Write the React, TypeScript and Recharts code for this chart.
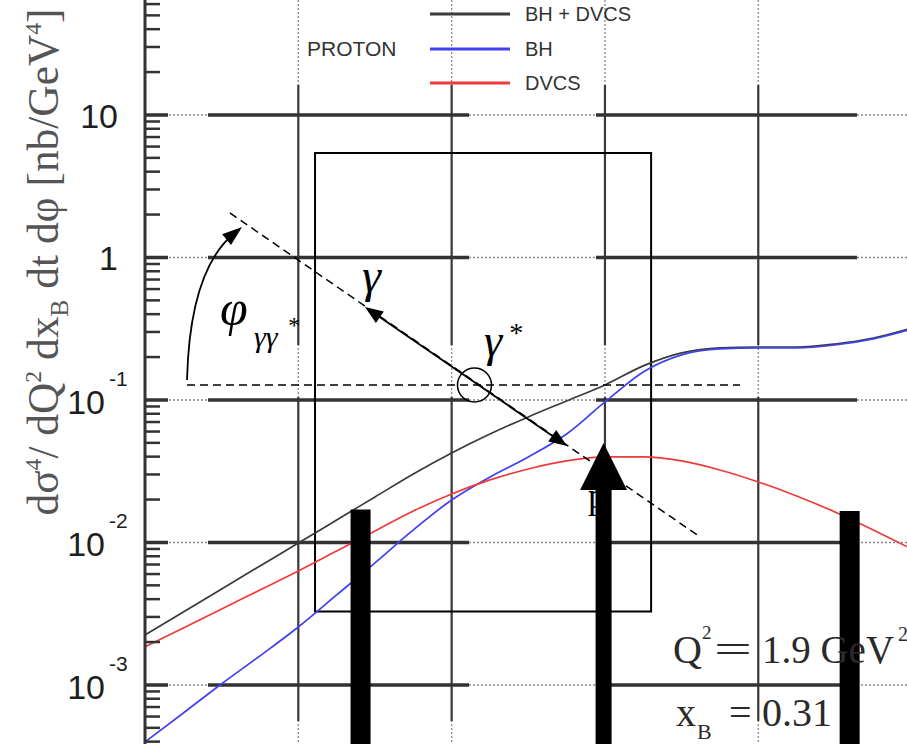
import React from 'react'
import {
  LineChart, Line, XAxis, YAxis, CartesianGrid, Legend,
  ReferenceLine, ReferenceArea, ReferenceDot,
} from 'recharts'

// x in grid units, y in nb/GeV^4
const X = [0, 0.25, 0.5, 0.75, 1, 1.25, 1.5, 1.75, 2, 2.25, 2.5, 2.75, 3, 3.25, 3.5, 3.75, 4, 4.25, 4.5, 4.75, 5]
const BH_DVCS = [0.00224, 0.00325, 0.00472, 0.00684, 0.0099, 0.01438, 0.02086, 0.03027, 0.04249, 0.05769, 0.07603, 0.0984, 0.1274, 0.1734, 0.2138, 0.232, 0.235, 0.235, 0.247, 0.272, 0.32]
const BH = [0.000398, 0.000635, 0.00102, 0.0016, 0.00255, 0.00428, 0.00718, 0.01224, 0.01987, 0.02882, 0.03981, 0.05769, 0.0968, 0.1572, 0.207, 0.228, 0.232, 0.232, 0.243, 0.268, 0.314]
const DVCS = [0.00185, 0.00251, 0.00341, 0.00464, 0.00631, 0.00871, 0.01204, 0.01663, 0.02188, 0.02746, 0.03279, 0.03733, 0.03981, 0.03981, 0.03733, 0.03226, 0.02658, 0.02118, 0.01637, 0.01224, 0.009]

const Y_MIN = 0.000385
const Y_MAX = 64.1
const X_MAX = 4.97
const Y_MAJOR = [0.001, 0.01, 0.1, 1, 10]
const X_GRID = [1, 2, 3, 4]
const Y_TICKS: number[] = []
for (const d of [0.0001, 0.001, 0.01, 0.1, 1, 10]) {
  for (let m = 1; m <= 9; m++) {
    const v = +(m * d).toPrecision(3)
    if (v >= Y_MIN && v <= Y_MAX) Y_TICKS.push(v)
  }
}

const SERIES = [
  { key: 'total', name: 'BH + DVCS', color: '#3a3a3a' },
  { key: 'bh', name: 'BH', color: '#4040ee' },
  { key: 'dvcs', name: 'DVCS', color: '#f03a3a' },
]

const data = X.map((x, i) => ({ x, total: BH_DVCS[i], bh: BH[i], dvcs: DVCS[i] }))

// kinematics sketch drawn over the plot (data coordinates)
const BOX = { x1: 1.109, x2: 3.301, y1: 0.00328, y2: 5.41 }
const DIAG = [{ x: 0.554, y: 2.052 }, { x: 3.601, y: 0.01129 }]
const PLANE = [{ x: 0.274, y: 0.1274 }, { x: 3.881, y: 0.1274 }]
const VERTEX = { x: 2.149, y: 0.1274 }
const PHOTONS = [{ x: 1.435, y: 0.4494 }, { x: 2.753, y: 0.04756 }]
const PHI_ARC = [{ x: 0.274, y: 0.1381 }, { x: 0.633, y: 1.637 }]
const BARS = [{ x: 1.406, top: 0.01705 }, { x: 4.596, top: 0.01664 }]
const PROTON_ARROW = { x: 2.991, tip: 0.0499 }
const PHI_POS = { x: 0.489, y: 0.336 }
const GAMMA_POS = { x: 1.416, y: 0.5727 }
const GSTAR_POS = { x: 2.211, y: 0.2036 }
const P_POS = { x: 2.89, y: 0.01746 }
const Q2_POS = { x: 3.444, y: 0.001427 }
const XB_POS = { x: 3.464, y: 0.000516 }

const SERIF = "'Liberation Serif', 'Times New Roman', serif"
const SANS = "'Liberation Sans', Arial, sans-serif"

function head(x: number, y: number, ux: number, uy: number, len: number, half: number) {
  const bx = x - ux * len
  const by = y - uy * len
  return `${x},${y} ${bx - uy * half},${by + ux * half} ${bx + uy * half},${by - ux * half}`
}

const DoubleArrow = (p: any) => {
  const { x1, y1, x2, y2 } = p
  const l = Math.hypot(x2 - x1, y2 - y1)
  const ux = (x2 - x1) / l
  const uy = (y2 - y1) / l
  return (
    <g>
      <line x1={x1 + ux * 8} y1={y1 + uy * 8} x2={x2 - ux * 8} y2={y2 - uy * 8} stroke="#000" strokeWidth={1.8} />
      <polygon points={head(x2, y2, ux, uy, 18, 7)} fill="#000" />
      <polygon points={head(x1, y1, -ux, -uy, 18, 7)} fill="#000" />
    </g>
  )
}

const ArcArrow = (p: any) => {
  const { x1, y1, x2, y2 } = p
  const cx = x1 + 0.05 * (x2 - x1)
  const cy = y2 + 0.28 * (y1 - y2)
  const l = Math.hypot(x2 - cx, y2 - cy)
  const ux = (x2 - cx) / l
  const uy = (y2 - cy) / l
  return (
    <g>
      <path d={`M${x1},${y1} Q${cx},${cy} ${x2 - ux * 10},${y2 - uy * 10}`} fill="none" stroke="#000" strokeWidth={1.8} />
      <polygon points={head(x2, y2, ux, uy, 20, 7)} fill="#000" />
    </g>
  )
}

const BigArrow = (p: any) => {
  const { x1, y1, y2 } = p
  const top = Math.min(y1, y2)
  const bottom = Math.max(y1, y2)
  return (
    <g>
      <polygon points={`${x1},${top} ${x1 - 23.5},${top + 47} ${x1 + 23.5},${top + 47}`} fill="#000" />
      <rect x={x1 - 8} y={top + 46} width={16} height={bottom - top - 46} fill="#000" />
    </g>
  )
}

const PhiLabel = ({ cx, cy }: any) => (
  <g fontFamily={SERIF} fontStyle="italic" fill="#000">
    <text x={cx} y={cy} fontSize={50}>φ</text>
    <text x={cx + 34} y={cy + 22} fontSize={30}>γγ</text>
    <text x={cx + 67} y={cy + 8} fontSize={24}>*</text>
  </g>
)

const GammaLabel = ({ cx, cy }: any) => (
  <text x={cx} y={cy} fontFamily={SERIF} fontStyle="italic" fontSize={48} fill="#000">γ</text>
)

const GammaStarLabel = ({ cx, cy }: any) => (
  <g fontFamily={SERIF} fontStyle="italic" fill="#000">
    <text x={cx} y={cy} fontSize={46}>γ</text>
    <text x={cx + 24} y={cy - 14} fontSize={28}>*</text>
  </g>
)

const PLabel = ({ cx, cy }: any) => (
  <text x={cx} y={cy} fontFamily={SERIF} fontSize={36} fill="#000">p</text>
)

const Q2Label = ({ cx, cy }: any) => (
  <g fontFamily={SERIF} fill="#2a2a2a">
    <text x={cx} y={cy} fontSize={40}>Q</text>
    <text x={cx + 29} y={cy - 24} fontSize={19}>2</text>
    <text x={cx + 41} y={cy} fontSize={40} textLength={38} lengthAdjust="spacingAndGlyphs">=</text>
    <text x={cx + 89} y={cy} fontSize={40} textLength={132} lengthAdjust="spacingAndGlyphs">1.9 GeV</text>
    <text x={cx + 225} y={cy - 22} fontSize={20}>2</text>
  </g>
)

const XbLabel = ({ cx, cy }: any) => (
  <g fontFamily={SERIF} fill="#2a2a2a">
    <text x={cx} y={cy} fontSize={40}>x</text>
    <text x={cx + 21} y={cy + 13} fontSize={22}>B</text>
    <text x={cx + 53} y={cy} fontSize={40}>=</text>
    <text x={cx + 86} y={cy} fontSize={40} textLength={70} lengthAdjust="spacingAndGlyphs">0.31</text>
  </g>
)

const YTick = (props: any) => {
  const { x, y, payload } = props
  const v = payload.value
  const exp = Math.round(Math.log10(v))
  const major = Math.abs(v / Math.pow(10, exp) - 1) < 1e-6
  if (!major) {
    return <line x1={x} x2={x + 15} y1={y} y2={y} stroke="#333" strokeWidth={2.5} />
  }
  if (exp >= 0) {
    return (
      <text x={x - 27} y={y + 13} textAnchor="end" fontFamily={SANS} fontSize={34} fill="#1e1e1e">
        {exp === 0 ? '1' : '10'}
      </text>
    )
  }
  return (
    <g fontFamily={SANS} fill="#1e1e1e">
      <text x={x - 40} y={y + 14} textAnchor="end" fontSize={34}>10</text>
      <text x={x - 36} y={y - 14} fontSize={21}>{String(exp)}</text>
    </g>
  )
}

const AxisTitle = () => (
  <text
    transform="translate(58, 262) rotate(-90)"
    textAnchor="middle"
    fontFamily={SERIF}
    fontSize={44}
    fill="#555"
    textLength={507}
    lengthAdjust="spacingAndGlyphs"
  >
    dσ<tspan dy={-17} fontSize={24}>4</tspan>
    <tspan dy={17}>/ dQ</tspan>
    <tspan dy={-17} fontSize={24}>2</tspan>
    <tspan dy={17}> dx</tspan>
    <tspan dy={10} fontSize={26}>B</tspan>
    <tspan dy={-10}> dt dφ  [nb/GeV</tspan>
    <tspan dy={-17} fontSize={24}>4</tspan>
    <tspan dy={17}>]</tspan>
  </text>
)

const LegendBox = (props: any) => {
  const items = SERIES.map((s) => (props.payload || []).find((e: any) => e.value === s.name) || { value: s.name, color: s.color })
  return (
    <div style={{ position: 'relative', width: 360, height: 100, fontFamily: SANS, color: '#333' }}>
      <div style={{ position: 'absolute', left: 7, top: 37, fontSize: 21, lineHeight: '24px' }}>PROTON</div>
      {items.map((e: any, i: number) => (
        <div key={e.value} style={{ position: 'absolute', left: 130, top: 2 + i * 34.5, height: 24, width: 230 }}>
          <svg width={80} height={24} style={{ position: 'absolute', left: 0, top: 0 }}>
            <line x1={0} x2={80} y1={12} y2={12} stroke={e.color} strokeWidth={3} />
          </svg>
          <span style={{ position: 'absolute', left: 95, top: 0, fontSize: 20, lineHeight: '24px', whiteSpace: 'nowrap' }}>{e.value}</span>
        </div>
      ))}
    </div>
  )
}

export default function App() {
  return (
    <div style={{ position: 'absolute', left: 0, top: 0, background: '#fff' }}>
      <LineChart width={907} height={744} data={data} margin={{ top: 0, right: 0, bottom: 0, left: 0 }}>
        <CartesianGrid horizontal={false} verticalValues={X_GRID} stroke="#888" strokeDasharray="2 2" strokeWidth={1.3} />
        <CartesianGrid horizontal={false} verticalValues={X_GRID} stroke="#3a3a3a" strokeDasharray="0 85 260 52 324 40" strokeWidth={2.2} />
        <CartesianGrid vertical={false} horizontalValues={Y_MAJOR} stroke="#888" strokeDasharray="2 2" strokeWidth={1.6} />
        <CartesianGrid vertical={false} horizontalValues={Y_MAJOR} stroke="#333" strokeDasharray="23 40 261 127 261 60" strokeWidth={3.5} />
        <XAxis type="number" dataKey="x" domain={[0, X_MAX]} allowDataOverflow hide ticks={X_GRID} />
        <YAxis
          type="number"
          scale="log"
          domain={[Y_MIN, Y_MAX]}
          allowDataOverflow
          ticks={Y_TICKS}
          interval={0}
          tick={<YTick />}
          tickLine={false}
          tickSize={0}
          tickMargin={0}
          width={145}
          axisLine={{ stroke: '#333', strokeWidth: 3 }}
          label={<AxisTitle />}
        />
        <Legend
          content={<LegendBox />}
          layout="horizontal"
          verticalAlign="middle"
          align="center"
          wrapperStyle={{ top: 0, left: 300, width: 360, height: 100 }}
        />
        {SERIES.map((s) => (
          <Line
            key={s.key}
            type="monotone"
            dataKey={s.key}
            name={s.name}
            stroke={s.color}
            strokeWidth={1.7}
            dot={false}
            isAnimationActive={false}
          />
        ))}
        <ReferenceArea x1={BOX.x1} x2={BOX.x2} y1={BOX.y1} y2={BOX.y2} fill="none" stroke="#000" strokeWidth={2} ifOverflow="visible" />
        <ReferenceLine segment={DIAG} stroke="#000" strokeWidth={1.5} strokeDasharray="8 5" ifOverflow="visible" />
        <ReferenceLine segment={PLANE} stroke="#000" strokeWidth={1.5} strokeDasharray="8 5" ifOverflow="visible" />
        <ReferenceLine segment={PHOTONS} shape={DoubleArrow} ifOverflow="visible" />
        <ReferenceLine segment={PHI_ARC} shape={ArcArrow} ifOverflow="visible" />
        <ReferenceDot x={VERTEX.x} y={VERTEX.y} r={17} fill="none" stroke="#000" strokeWidth={1.5} ifOverflow="visible" />
        <ReferenceDot x={PHI_POS.x} y={PHI_POS.y} shape={PhiLabel} ifOverflow="visible" />
        <ReferenceDot x={GAMMA_POS.x} y={GAMMA_POS.y} shape={GammaLabel} ifOverflow="visible" />
        <ReferenceDot x={GSTAR_POS.x} y={GSTAR_POS.y} shape={GammaStarLabel} ifOverflow="visible" />
        <ReferenceDot x={Q2_POS.x} y={Q2_POS.y} shape={Q2Label} ifOverflow="visible" />
        <ReferenceDot x={XB_POS.x} y={XB_POS.y} shape={XbLabel} ifOverflow="visible" />
        <ReferenceDot x={P_POS.x} y={P_POS.y} shape={PLabel} ifOverflow="visible" />
        {BARS.map((b) => (
          <ReferenceLine key={b.x} segment={[{ x: b.x, y: b.top }, { x: b.x, y: Y_MIN }]} stroke="#000" strokeWidth={20} ifOverflow="visible" />
        ))}
        <ReferenceLine segment={[{ x: PROTON_ARROW.x, y: PROTON_ARROW.tip }, { x: PROTON_ARROW.x, y: Y_MIN }]} shape={BigArrow} ifOverflow="visible" />
      </LineChart>
    </div>
  )
}
